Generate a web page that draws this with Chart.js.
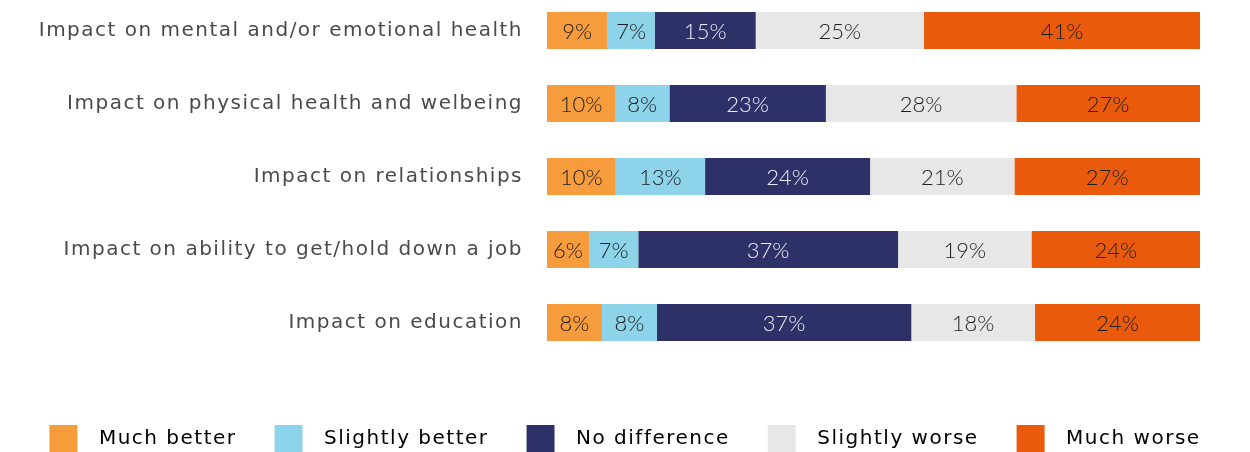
<!DOCTYPE html>
<html>
<head>
<meta charset="utf-8">
<script src="https://cdn.jsdelivr.net/npm/chart.js@4.4.1/dist/chart.umd.min.js"></script>
<style>
  html, body { margin: 0; padding: 0; background: #ffffff; overflow: hidden; }
  body { width: 1250px; height: 452px; position: relative; }
  #wrap { position: absolute; left: 0; top: -6px; width: 1250px; height: 469px; }
  #preload { position: absolute; left: -9999px; font-family: Lato; font-weight: 300; font-size: 22px; }
</style>
</head>
<body>
<span id="preload">0123456789%</span>
<div id="wrap"><canvas id="chart"></canvas></div>
<script>
const categories = [
  'Impact on mental and/or emotional health',
  'Impact on physical health and welbeing',
  'Impact on relationships',
  'Impact on ability to get/hold down a job',
  'Impact on education'
];
const seriesNames = ['Much better', 'Slightly better', 'No difference', 'Slightly worse', 'Much worse'];
const muchBetter = [9, 10, 10, 6, 8];
const slightlyBetter = [7, 8, 13, 7, 8];
const noDifference = [15, 23, 24, 37, 37];
const slightlyWorse = [25, 28, 21, 19, 18];
const muchWorse = [41, 27, 27, 24, 24];

const colors = ['#F79C3D', '#8DD3EA', '#2E3168', '#E7E7E7', '#EA5A0C'];
const labelColors = ['#1e1e1e', '#1e1e1e', '#ececf4', '#1e1e1e', '#1e1e1e'];
const textFont = '"DejaVu Sans", Verdana, sans-serif';

const allSeries = [muchBetter, slightlyBetter, noDifference, slightlyWorse, muchWorse];

// bars are stretched to full width, so each row is scaled by its own total
const rowTotals = categories.map((c, i) => allSeries.reduce((s, arr) => s + arr[i], 0));

const datasets = allSeries.map((arr, k) => ({
  label: seriesNames[k],
  data: arr.map((v, i) => v / rowTotals[i] * 100),
  raw: arr,
  backgroundColor: colors[k],
  borderWidth: 0,
  barPercentage: 0.507,
  categoryPercentage: 1.0
}));

// wider tracking for the axis and legend text (canvas state is reset on resize)
const tracking = {
  id: 'tracking',
  beforeUpdate(chart) { chart.ctx.letterSpacing = '1.5px'; },
  beforeDraw(chart) { chart.ctx.letterSpacing = '1.5px'; }
};

// writes the shown percentage in the middle of each segment
const barLabels = {
  id: 'barLabels',
  afterDatasetsDraw(chart) {
    const ctx = chart.ctx;
    ctx.save();
    ctx.letterSpacing = '0px';
    ctx.font = '300 22px Lato, "Open Sans", sans-serif';
    ctx.textAlign = 'center';
    ctx.textBaseline = 'middle';
    chart.data.datasets.forEach((ds, k) => {
      const meta = chart.getDatasetMeta(k);
      meta.data.forEach((bar, i) => {
        ctx.fillStyle = labelColors[k];
        ctx.fillText(ds.raw[i] + '%', (bar.x + bar.base) / 2, bar.y + 1);
      });
    });
    ctx.restore();
  }
};

function drawChart() {
  new Chart(document.getElementById('chart').getContext('2d'), {
    type: 'bar',
    data: { labels: categories, datasets: datasets },
    options: {
      indexAxis: 'y',
      responsive: true,
      maintainAspectRatio: false,
      animation: false,
      layout: { padding: 0 },
      plugins: {
        tooltip: { enabled: false },
        legend: {
          position: 'bottom',
          align: 'center',
          labels: {
            boxWidth: 28,
            boxHeight: 28,
            padding: 38,
            color: '#4a4a4a',
            font: { family: textFont, size: 20 },
            generateLabels(chart) {
              return chart.data.datasets.map((ds, k) => ({
                text: '\u2002' + ds.label,
                fillStyle: ds.backgroundColor,
                strokeStyle: ds.backgroundColor,
                lineWidth: 0,
                hidden: false,
                datasetIndex: k
              }));
            }
          }
        }
      },
      scales: {
        x: {
          stacked: true,
          min: 0,
          max: 100,
          grid: { display: false, drawTicks: false },
          border: { display: false },
          ticks: { display: false },
          afterFit(scale) { scale.height = 28; }
        },
        y: {
          stacked: true,
          grid: { display: false, drawTicks: false },
          border: { display: false },
          ticks: {
            padding: 24,
            color: '#4a4a4a',
            font: { family: textFont, size: 20 }
          },
          afterFit(scale) {
            scale.width = 547;
            scale.paddingTop = 0;
            scale.paddingBottom = 0;
          }
        },
        // empty right-hand axis, only keeps the white margin after the bars
        yRight: {
          type: 'category',
          position: 'right',
          display: true,
          grid: { display: false, drawTicks: false },
          border: { display: false },
          ticks: { display: false },
          afterFit(scale) {
            scale.width = 50;
            scale.paddingTop = 0;
            scale.paddingBottom = 0;
          }
        }
      }
    },
    plugins: [tracking, barLabels]
  });
}

document.fonts.load('300 22px Lato').then(drawChart, drawChart);
</script>
</body>
</html>
